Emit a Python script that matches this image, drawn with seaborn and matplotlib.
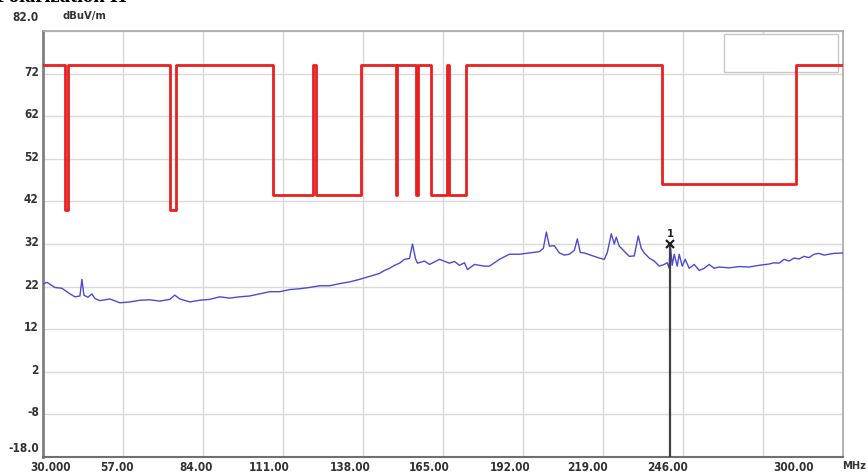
import matplotlib
matplotlib.use("Agg")
import matplotlib.pyplot as plt
import matplotlib.transforms as mtransforms
from matplotlib.patches import Rectangle
import pandas as pd
import seaborn as sns

freq = [30.0, 31.35, 34.04, 36.40, 39.10, 40.79, 42.47, 43.15, 43.82, 45.17,
        46.52, 47.53, 49.21, 52.58, 55.96, 59.33, 62.70, 66.07, 69.44, 72.81,
        74.49, 76.18, 79.55, 82.92, 86.29, 89.66, 93.03, 96.41, 99.78, 103.15,
        106.52, 109.89, 113.26, 116.63, 120.00, 123.37, 126.74, 130.11, 133.48, 136.85,
        140.23, 143.60, 145.28, 146.97, 148.65, 150.34, 152.02, 153.71, 154.72, 155.73,
        156.41, 158.76, 160.45, 163.82, 167.19, 168.88, 170.56, 172.25, 173.26, 175.62,
        177.30, 178.99, 180.68, 182.36, 184.05, 187.42, 190.79, 194.16, 197.53, 198.88,
        199.89, 200.90, 202.58, 204.27, 205.96, 207.64, 209.33, 210.34, 211.35, 212.70,
        214.38, 217.75, 219.44, 220.45, 221.80, 222.81, 223.48, 224.49, 226.18, 227.87,
        229.55, 230.90, 231.91, 232.92, 234.61, 236.29, 237.98, 239.67, 240.68, 241.35,
        241.69, 242.36, 243.03, 244.05, 244.72, 245.73, 246.74, 248.09, 249.78, 251.46,
        253.15, 254.83, 256.52, 258.20, 261.58, 264.95, 268.32, 271.69, 275.06, 276.75,
        278.43, 280.12, 281.80, 283.49, 285.17, 286.86, 288.54, 290.23, 291.91, 293.60,
        295.28, 296.97, 300.0]
level = [22.6, 23.0, 21.8, 21.6, 20.3, 19.6, 19.8, 23.7, 20.0, 19.5,
         20.3, 19.2, 18.7, 19.1, 18.2, 18.4, 18.8, 18.9, 18.6, 19.0,
         20.0, 19.1, 18.4, 18.8, 19.0, 19.6, 19.3, 19.6, 19.8, 20.3,
         20.8, 20.8, 21.3, 21.5, 21.8, 22.2, 22.2, 22.7, 23.1, 23.7,
         24.4, 25.1, 25.8, 26.3, 27.0, 27.5, 28.4, 28.6, 32.0, 28.5,
         27.5, 28.0, 27.2, 28.4, 27.5, 27.9, 27.0, 27.6, 26.0, 27.2,
         27.0, 26.8, 26.8, 27.6, 28.4, 29.6, 29.6, 29.9, 30.2, 31.0,
         34.8, 31.5, 31.6, 29.9, 29.4, 29.6, 30.5, 33.2, 30.0, 29.9,
         29.5, 28.7, 28.4, 30.0, 34.4, 32.0, 33.6, 31.5, 30.3, 29.1,
         29.2, 33.9, 31.0, 29.9, 28.7, 28.0, 26.8, 27.2, 27.6, 26.3,
         32.0, 27.0, 29.6, 26.8, 29.6, 26.8, 28.4, 26.3, 27.2, 25.8,
         26.3, 27.2, 26.3, 26.6, 26.4, 26.7, 26.6, 27.0, 27.3, 27.6,
         27.5, 28.4, 28.0, 28.7, 28.5, 29.1, 28.8, 29.6, 29.8, 29.4,
         29.6, 29.8, 29.9]

# limit line, one level from each breakpoint to the next
limit_freq = [30.0, 37.5, 38.3, 73.0, 74.9, 107.5, 121.3, 122.2, 137.5, 149.2,
              149.4, 155.9, 156.4, 161.1, 166.2, 167.0, 172.6, 239.0, 284.2, 300.0]
limit_level = [74, 40, 74, 40, 74, 43.5, 74, 43.5, 74, 43.5,
               74, 43.5, 74, 43.5, 74, 43.5, 74, 46, 74, 74]

marker_freq = 241.7
marker_level = 32.0
marker_label = "1"

xticks = [30, 57, 84, 111, 138, 165, 192, 219, 246, 273, 300]
xlabels = ["30.000", "57.00", "84.00", "111.00", "138.00", "165.00",
           "192.00", "219.00", "246.00", "", "300.00"]
yticks = [-18, -8, 2, 12, 22, 32, 42, 52, 62, 72, 82]
ylabels = ["-18.0", "-8", "2", "12", "22", "32", "42", "52", "62", "72", "82.0"]

sns.set_style("white")
plt.rcParams['font.family'] = ['DejaVu Sans']
plt.rcParams['font.stretch'] = 'condensed'

fig = plt.figure(figsize=(8.68, 4.75), dpi=100)
ax = fig.add_axes([0.0495, 0.0379, 0.9217, 0.8968])

spec = pd.DataFrame({"MHz": freq, "dBuV/m": level})
lim = pd.DataFrame({"MHz": limit_freq, "dBuV/m": limit_level})

sns.lineplot(data=spec, x="MHz", y="dBuV/m", ax=ax, color="#4a4ad6",
             linewidth=1.0, estimator=None, zorder=3)
sns.lineplot(data=lim, x="MHz", y="dBuV/m", ax=ax, color="#e82020",
             linewidth=2.0, drawstyle="steps-post", estimator=None, zorder=4)

# marker 1
ax.plot([marker_freq, marker_freq], [-18, marker_level], color="#404040",
        linewidth=1.6, zorder=5)
ax.plot([marker_freq], [marker_level], marker="x", color="#202020",
        markersize=6, markeredgewidth=1.6, zorder=6)
ax.text(marker_freq, marker_level + 1.2, marker_label, ha="center", va="bottom",
        fontsize=8, fontweight="bold", color="#202020", zorder=6)

# empty legend box, top right
ax.add_patch(Rectangle((0.851, 0.904), 0.143, 0.089, transform=ax.transAxes,
                       facecolor="white", edgecolor="#c8c8c8", linewidth=1.0,
                       zorder=2))

ax.set_xlim(30, 300)
ax.set_ylim(-18, 82)
ax.set_xticks(xticks)
ax.set_xticklabels(xlabels)
ax.set_yticks(yticks)
ax.set_yticklabels(ylabels)
ax.set_xlabel("")
ax.set_ylabel("")
ax.grid(True, color="#d9d9d9", linewidth=1.0, zorder=0)
ax.set_axisbelow(True)
ax.tick_params(length=0, labelsize=8.5, colors="#333333", pad=3)
for lab in ax.get_xticklabels() + ax.get_yticklabels():
    lab.set_fontweight("bold")
    lab.set_fontstretch("condensed")

# shift labels like the analyser software does
x_shift = [8, -6, -7, -14, -13, -14, -13, -16, -15, 0, -50]
for lab, dx in zip(ax.get_xticklabels(), x_shift):
    lab.set_transform(lab.get_transform() +
                      mtransforms.ScaledTranslation(dx / 100, 0, fig.dpi_scale_trans))
y_shift = [10, 3, 3, 3, 3, 3, 3, 3, 3, 3, 15]
for lab, dy in zip(ax.get_yticklabels(), y_shift):
    lab.set_transform(lab.get_transform() +
                      mtransforms.ScaledTranslation(0, dy / 100, fig.dpi_scale_trans))

for side in ["top", "right"]:
    ax.spines[side].set_color("#a8a8a8")
    ax.spines[side].set_linewidth(1.2)
ax.spines["left"].set_color("#808080")
ax.spines["left"].set_linewidth(2.0)
ax.spines["bottom"].set_color("#707070")
ax.spines["bottom"].set_linewidth(1.5)

ax.text(0.024, 1.035, "dBuV/m", transform=ax.transAxes, fontsize=8,
        fontweight="bold", color="#333333", va="center")
fig.text(0.998, 0.018, "MHz", fontsize=8, fontweight="bold",
         color="#333333", va="center", ha="right")

# title cut off at the top edge of the capture
fig.text(-0.005, 0.985, "Polarization H", fontsize=15, fontweight="bold",
         family="Liberation Serif", va="bottom", ha="left", color="black")

fig.savefig("out.png", dpi=100)
